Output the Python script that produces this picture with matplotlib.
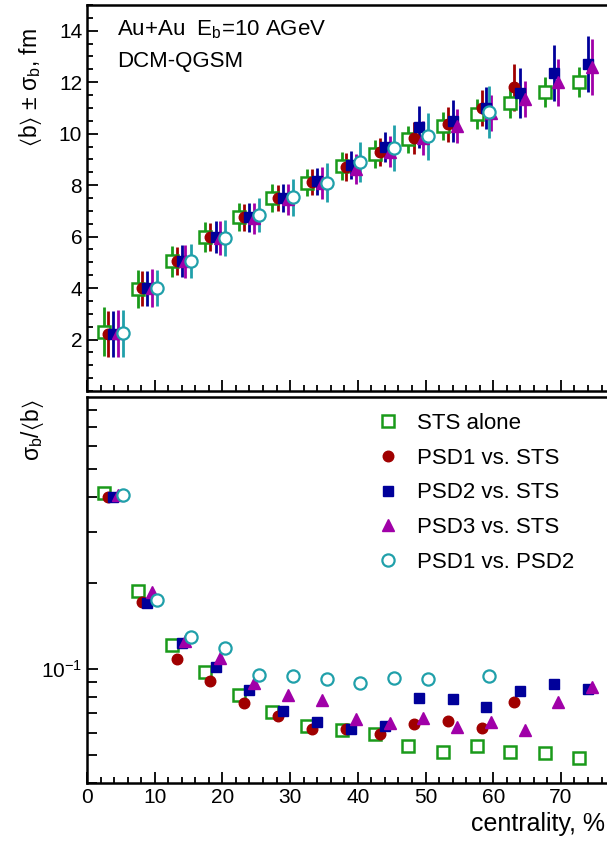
import numpy as np
import matplotlib
matplotlib.use("Agg")
import matplotlib.pyplot as plt
from matplotlib.ticker import MultipleLocator, LogLocator, NullFormatter, FixedLocator, FixedFormatter

plt.rcParams['font.family'] = ['Liberation Sans', 'DejaVu Sans']
plt.rcParams['mathtext.default'] = 'regular'
plt.rcParams['mathtext.fontset'] = 'custom'
plt.rcParams['mathtext.rm'] = 'Liberation Sans'
plt.rcParams['mathtext.fallback'] = 'stixsans'

# ---- data (centrality, %) ----
x_sts = [2.5, 7.5, 12.6, 17.5, 22.4, 27.4, 32.5, 37.6, 42.5, 47.4, 52.6, 57.6, 62.5, 67.7, 72.7]
x_psd1 = [3.1, 8.1, 13.3, 18.2, 23.2, 28.2, 33.2, 38.3, 43.3, 48.3, 53.3, 58.3, 63.1]
x_psd2 = [3.9, 8.8, 14.0, 19.0, 24.0, 29.0, 34.0, 39.0, 44.0, 49.0, 54.0, 59.0, 64.0, 69.0, 74.0]
x_psd3 = [4.6, 9.6, 14.5, 19.6, 24.7, 29.7, 34.7, 39.7, 44.7, 49.7, 54.7, 59.7, 64.7, 69.6, 74.6]
x_p1p2 = [5.3, 10.3, 15.3, 20.4, 25.4, 30.4, 35.4, 40.3, 45.4, 50.4, 59.4]

# mean impact parameter <b>, fm
b_sts = [2.3, 3.95, 5.04, 6.0, 6.75, 7.5, 8.1, 8.74, 9.2, 9.79, 10.3, 10.76, 11.2, 11.62, 12.0]
b_psd1 = [2.23, 3.99, 5.04, 6.0, 6.75, 7.5, 8.12, 8.7, 9.28, 9.83, 10.37, 11.0, 11.8]
b_psd2 = [2.23, 3.99, 5.04, 5.98, 6.75, 7.5, 8.15, 8.78, 9.48, 10.25, 10.5, 11.0, 11.58, 12.36, 12.7]
b_psd3 = [2.25, 3.99, 5.04, 5.95, 6.72, 7.45, 8.08, 8.62, 9.3, 9.83, 10.3, 10.8, 11.35, 12.0, 12.6]
b_p1p2 = [2.25, 4.0, 5.06, 5.96, 6.83, 7.53, 8.1, 8.9, 9.44, 9.9, 10.84]

# relative resolution sigma_b/<b>
r_sts = [0.412, 0.1875, 0.121, 0.0976, 0.0811, 0.0708, 0.0633, 0.0612, 0.0593, 0.0538, 0.0513, 0.0538, 0.0513, 0.0508, 0.0489]
r_psd1 = [0.400, 0.171, 0.108, 0.0908, 0.076, 0.0686, 0.0617, 0.0617, 0.0593, 0.0643, 0.0658, 0.0622, 0.0767]
r_psd2 = [0.400, 0.170, 0.123, 0.1016, 0.0845, 0.0713, 0.0653, 0.0617, 0.0633, 0.0792, 0.0785, 0.0736, 0.0838, 0.0887, 0.0851]
r_psd3 = [0.405, 0.186, 0.125, 0.109, 0.0893, 0.0811, 0.078, 0.0669, 0.0648, 0.0674, 0.0626, 0.0653, 0.0612, 0.0767, 0.0865]
r_p1p2 = [0.405, 0.174, 0.129, 0.118, 0.0953, 0.0945, 0.0923, 0.0893, 0.093, 0.0923, 0.0945]

labels = ["STS alone", "PSD1 vs. STS", "PSD2 vs. STS", "PSD3 vs. STS", "PSD1 vs. PSD2"]
x_ticks = [0, 10, 20, 30, 40, 50, 60, 70]

series = [
    (x_sts, b_sts, r_sts, dict(marker='s', color='#1a9a1a', mfc='white', ms=8.3, mew=1.8)),
    (x_psd1, b_psd1, r_psd1, dict(marker='o', color='#a00000', mfc='#a00000', ms=7.6, mew=1.0)),
    (x_psd2, b_psd2, r_psd2, dict(marker='s', color='#00009a', mfc='#00009a', ms=7.6, mew=1.0)),
    (x_psd3, b_psd3, r_psd3, dict(marker='^', color='#a000a8', mfc='#a000a8', ms=8.5, mew=1.0)),
    (x_p1p2, b_p1p2, r_p1p2, dict(marker='o', color='#20a0aa', mfc='white', ms=8.8, mew=1.6)),
]

W, H = 607, 843
fig = plt.figure(figsize=(W / 100, H / 100), dpi=100)

left = 87 / W
width = 80 * 6.77 / W
ax1 = fig.add_axes([left, (H - 391) / H, width, 386 / H])
ax2 = fig.add_axes([left, (H - 783) / H, width, 386 / H])

for xs, bs, rs, st in series:
    bs_a = np.array(bs)
    err = bs_a * np.array(rs)
    ax1.errorbar(xs, bs_a, yerr=err, fmt='none', ecolor=st['color'], elinewidth=2.0, capsize=0, zorder=2)
    ax1.plot(xs, bs_a, linestyle='none', marker=st['marker'], color=st['color'], mfc=st['mfc'],
             mec=st['color'], ms=st['ms'], mew=st['mew'], zorder=3)

handles = []
for (xs, bs, rs, st), lab in zip(series, labels):
    h, = ax2.plot(xs, rs, linestyle='none', marker=st['marker'], color=st['color'], mfc=st['mfc'],
                  mec=st['color'], ms=st['ms'], mew=st['mew'], label=lab)
    handles.append(h)

for ax in (ax1, ax2):
    ax.set_xlim(0, 80)
    ax.xaxis.set_major_locator(FixedLocator(x_ticks))
    ax.xaxis.set_minor_locator(MultipleLocator(2))
    ax.tick_params(which='major', direction='in', length=8, width=1.3, labelsize=15,
                   top=False, right=False)
    ax.tick_params(which='minor', direction='in', length=4.5, width=1.3, top=False, right=False)
    for s in ax.spines.values():
        s.set_linewidth(1.8)

ax1.set_ylim(0, 15)
ax1.yaxis.set_major_locator(FixedLocator([2, 4, 6, 8, 10, 12, 14]))
ax1.yaxis.set_minor_locator(MultipleLocator(0.5))
ax1.tick_params(axis='x', labelbottom=False)

ax2.set_yscale('log')
ax2.set_ylim(0.04, 0.89)
ax2.yaxis.set_major_locator(FixedLocator([0.1]))
ax2.yaxis.set_major_formatter(FixedFormatter([r'$10^{-1}$']))
ax2.yaxis.set_minor_locator(LogLocator(base=10, subs=np.arange(2, 10)))
ax2.yaxis.set_minor_formatter(NullFormatter())
ax2.tick_params(axis='y', which='minor', length=7)

leg = ax2.legend(handles=handles, loc='upper left', bbox_to_anchor=(370 / W, 1 - 404 / H),
                 bbox_transform=fig.transFigure, frameon=False, fontsize=16, handlelength=0.8,
                 handletextpad=0.9, labelspacing=0.62, numpoints=1, borderaxespad=0)

fig.text(117 / W, 1 - 30 / H, r'Au+Au  E$_\mathregular{b}$=10 AGeV', fontsize=16, ha='left', va='center')
fig.text(117 / W, 1 - 62 / H, 'DCM-QGSM', fontsize=16, ha='left', va='center')

fig.text(30 / W, 1 - 88 / H, r'$\langle$b$\rangle$ ± σ$_\mathregular{b}$, fm', fontsize=16.5,
         rotation=90, ha='center', va='center')
fig.text(33 / W, 1 - 430 / H, r'σ$_\mathregular{b}$/$\langle$b$\rangle$', fontsize=16.5,
         rotation=90, ha='center', va='center')
fig.text(605 / W, 1 - 824 / H, 'centrality, %', fontsize=18, ha='right', va='center')

fig.savefig('out.png', dpi=100)
